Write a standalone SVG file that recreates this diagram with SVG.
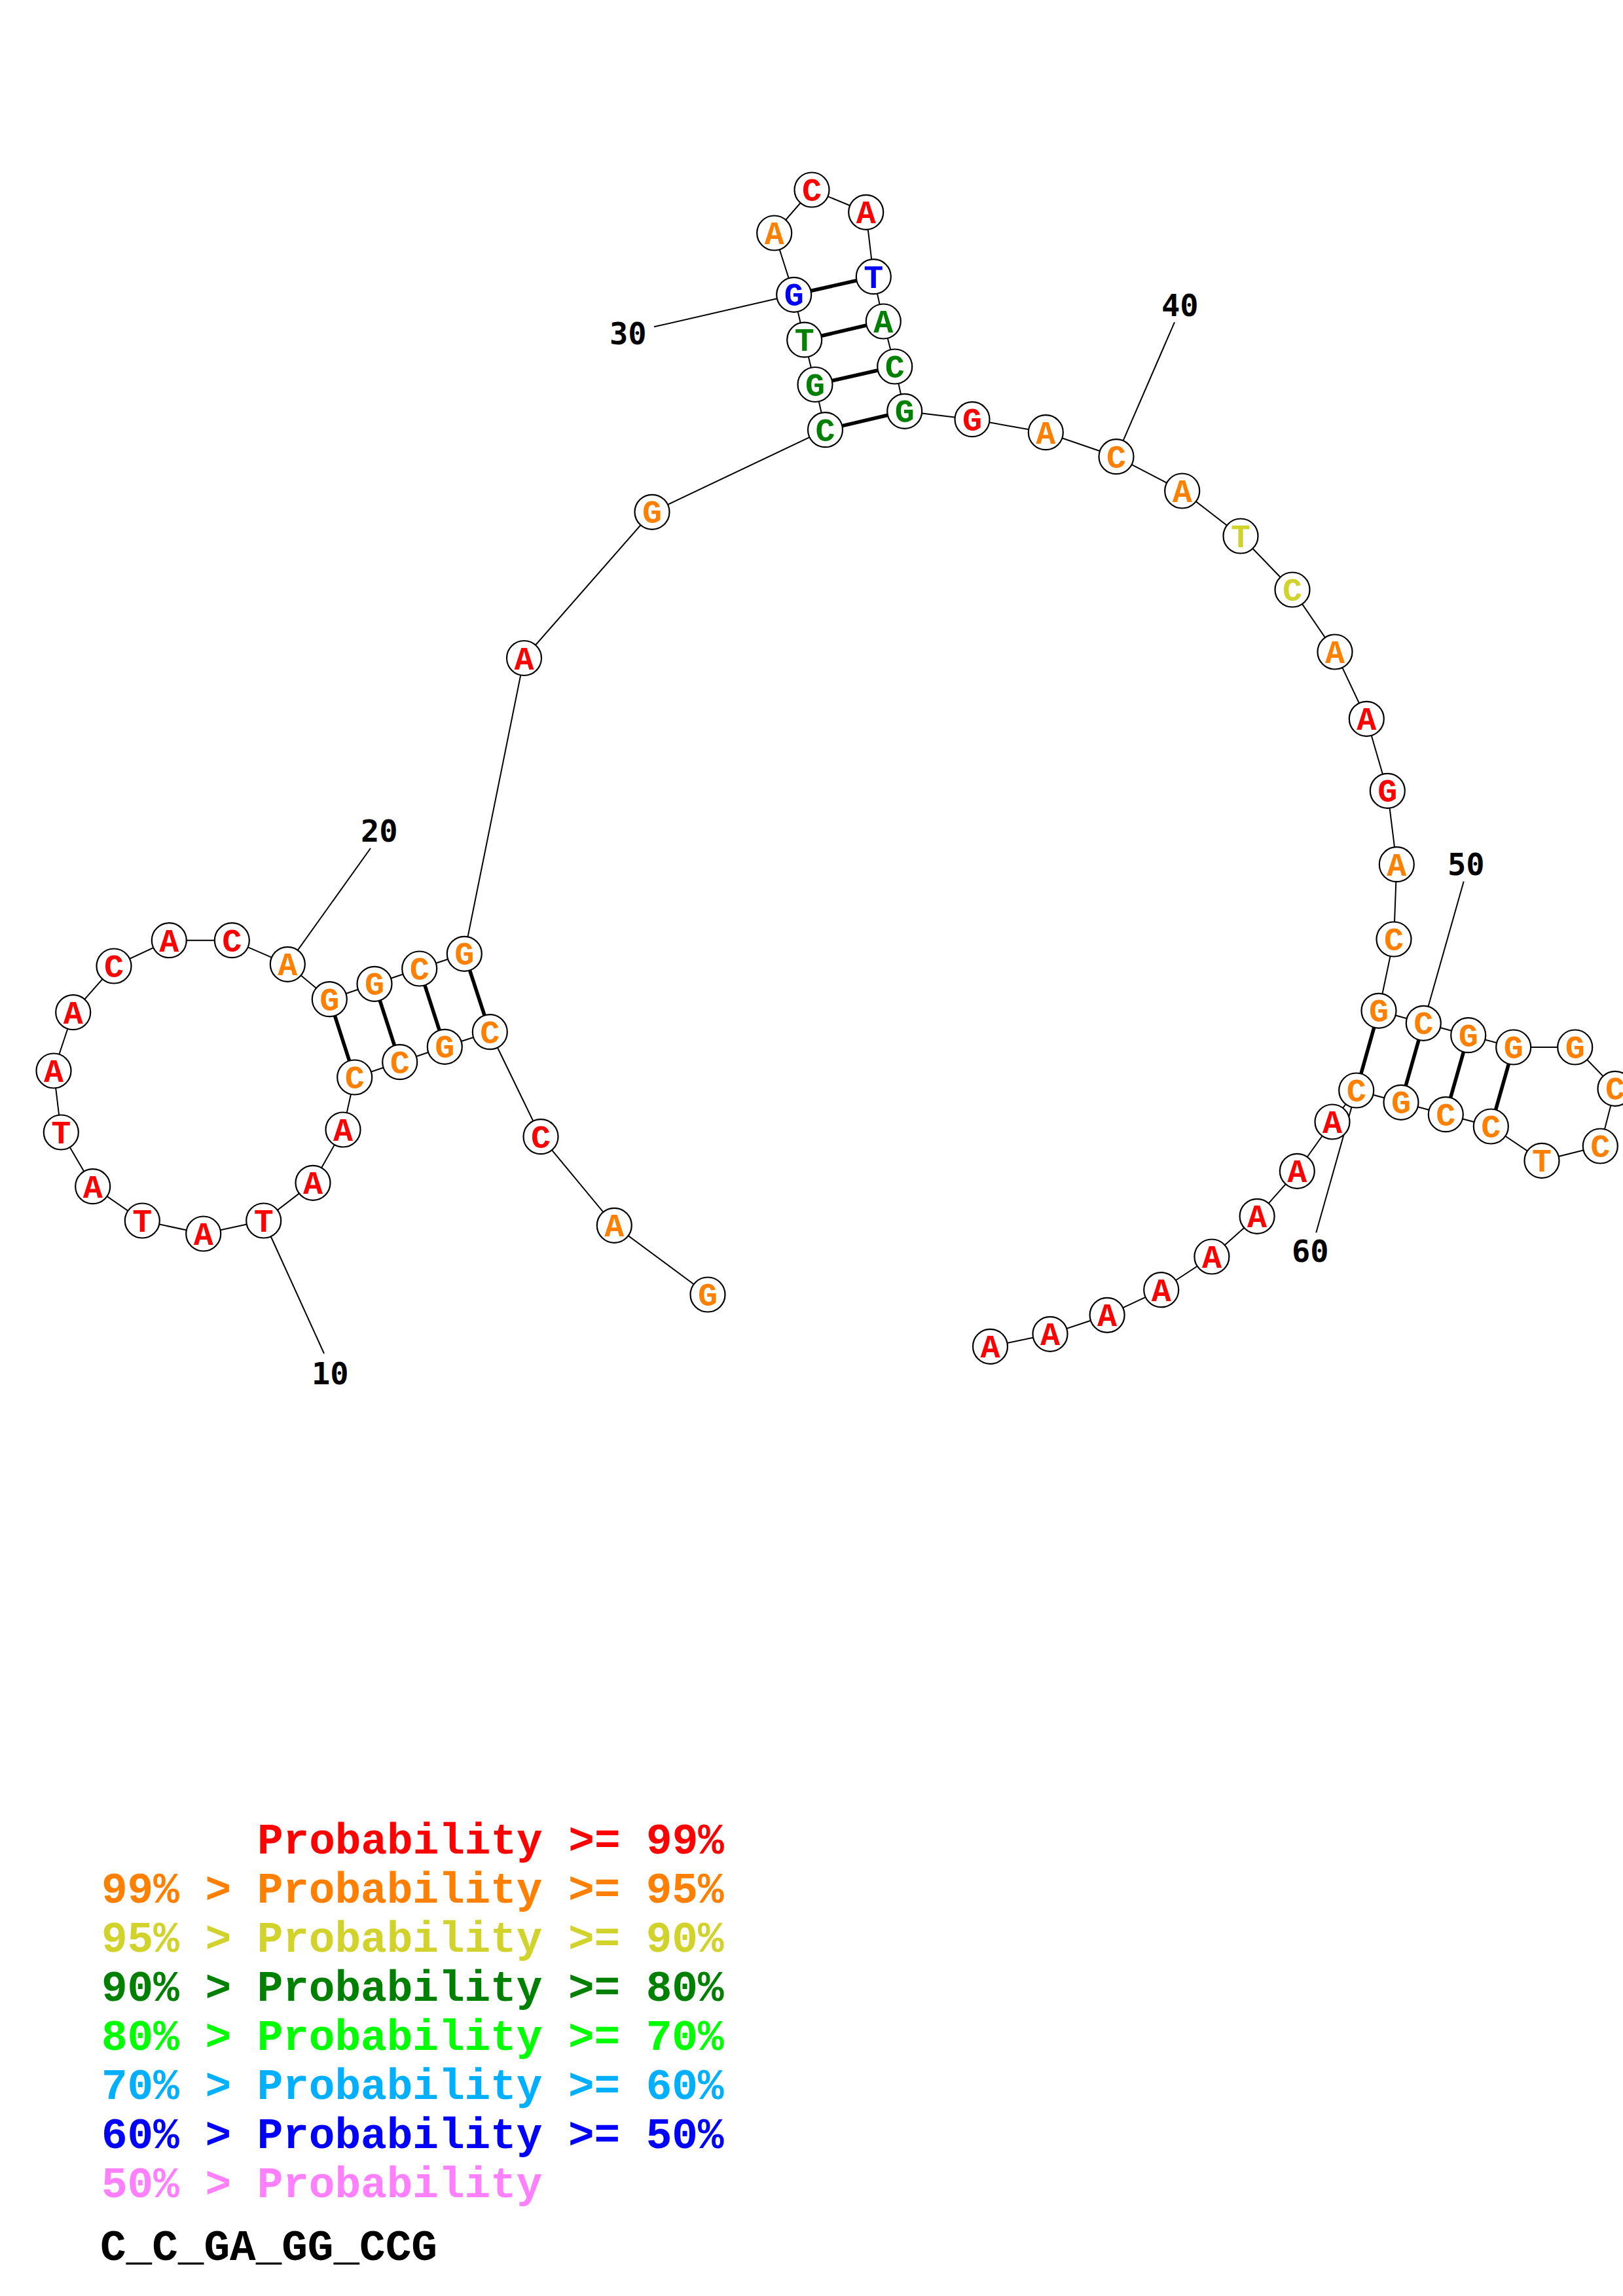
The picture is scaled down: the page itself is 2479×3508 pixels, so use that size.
<svg xmlns="http://www.w3.org/2000/svg" width="2479" height="3508" viewBox="0 0 2479 3508">
<style>
.bb{stroke:#000;stroke-width:2;fill:none}
.bp{stroke:#000;stroke-width:5.5;fill:none}
.nd circle{fill:#fff;stroke:#000;stroke-width:2.2}
.nd text{font-family:"Liberation Mono","DejaVu Sans Mono",monospace;font-weight:bold;font-size:50px;text-anchor:middle}
.lbl{font-family:"DejaVu Sans Mono","Liberation Mono",monospace;font-weight:bold;font-size:47px;fill:#000}
.lg{font-family:"Liberation Mono","Courier New",monospace;font-weight:bold;font-size:66px}
.r{fill:#ff0000}.o{fill:#ff8000}.y{fill:#d2d22d}.g{fill:#008000}.b{fill:#0000ff}
.l{fill:#00ff00}.c{fill:#00afff}.p{fill:#ff80ff}.k{fill:#000}
</style>
<g id="connectors">
<polyline class="bb" points="1081,1978 938.3,1872.3 826,1736.7 748.3,1576.7 679.3,1599.3 610.7,1622.7 541.7,1646 524,1726 478,1807.3 402.7,1865 310.7,1885 217.3,1865 141.7,1812.7 93.3,1730 82,1636 111.7,1546.7 174,1476 258.3,1436.7 354.3,1436.7 439.3,1473.3 503.3,1526.7 572,1503.3 640.7,1480 709.3,1457.3 800.5,1005.5 996,782.3 1260.5,656.7 1245,587.5 1228.7,519.2 1212.7,450.3 1182.7,356 1240,290 1322.7,324.3 1334.3,422.7 1349.3,491 1366.7,560 1381.7,628.3 1485,640.7 1597.3,660.7 1705,697.7 1805.7,750 1895,819 1974,901 2039,996 2087.3,1098.3 2119.3,1208.3 2133.3,1320.7 2129,1435 2106,1544.3 2174.3,1563.3 2242.7,1581.7 2311.7,1600 2405.7,1600 2467,1663.3 2444.3,1751 2355,1773.3 2277.3,1721 2208.3,1702.7 2140,1684.3 2071.7,1666 2035,1714 1981.3,1789.3 1920.1,1858.3 1850.9,1920 1773.7,1970.7 1691.1,2009.3 1604,2038.3 1512.5,2057.3"/>
<line class="bp" x1="748.3" y1="1576.7" x2="709.3" y2="1457.3"/>
<line class="bp" x1="679.3" y1="1599.3" x2="640.7" y2="1480"/>
<line class="bp" x1="610.7" y1="1622.7" x2="572" y2="1503.3"/>
<line class="bp" x1="541.7" y1="1646" x2="503.3" y2="1526.7"/>
<line class="bp" x1="1260.5" y1="656.7" x2="1381.7" y2="628.3"/>
<line class="bp" x1="1245" y1="587.5" x2="1366.7" y2="560"/>
<line class="bp" x1="1228.7" y1="519.2" x2="1349.3" y2="491"/>
<line class="bp" x1="1212.7" y1="450.3" x2="1334.3" y2="422.7"/>
<line class="bp" x1="2106" y1="1544.3" x2="2071.7" y2="1666"/>
<line class="bp" x1="2174.3" y1="1563.3" x2="2140" y2="1684.3"/>
<line class="bp" x1="2242.7" y1="1581.7" x2="2208.3" y2="1702.7"/>
<line class="bp" x1="2311.7" y1="1600" x2="2277.3" y2="1721"/>
<line class="bb" x1="402.7" y1="1865" x2="495" y2="2068"/>
<line class="bb" x1="439.3" y1="1473.3" x2="566" y2="1296"/>
<line class="bb" x1="1212.7" y1="450.3" x2="999" y2="499.3"/>
<line class="bb" x1="1705" y1="697.7" x2="1794" y2="492.3"/>
<line class="bb" x1="2174.3" y1="1563.3" x2="2235.7" y2="1346.7"/>
<line class="bb" x1="2071.7" y1="1666" x2="2010.3" y2="1883.3"/>
</g>
<g id="labels">
<text class="lbl" x="476" y="2115">10</text>
<text class="lbl" x="551" y="1286">20</text>
<text class="lbl" x="931" y="526">30</text>
<text class="lbl" x="1774" y="483">40</text>
<text class="lbl" x="2211" y="1337">50</text>
<text class="lbl" x="1973" y="1928">60</text>
</g>
<g id="n1" class="nd"><circle cx="1081" cy="1978" r="26.5"/><text class="o" x="1081" y="1995">G</text></g>
<g id="n2" class="nd"><circle cx="938.3" cy="1872.3" r="26.5"/><text class="o" x="938.3" y="1889.3">A</text></g>
<g id="n3" class="nd"><circle cx="826" cy="1736.7" r="26.5"/><text class="r" x="826" y="1753.7">C</text></g>
<g id="n4" class="nd"><circle cx="748.3" cy="1576.7" r="26.5"/><text class="o" x="748.3" y="1593.7">C</text></g>
<g id="n5" class="nd"><circle cx="679.3" cy="1599.3" r="26.5"/><text class="o" x="679.3" y="1616.3">G</text></g>
<g id="n6" class="nd"><circle cx="610.7" cy="1622.7" r="26.5"/><text class="o" x="610.7" y="1639.7">C</text></g>
<g id="n7" class="nd"><circle cx="541.7" cy="1646" r="26.5"/><text class="o" x="541.7" y="1663">C</text></g>
<g id="n8" class="nd"><circle cx="524" cy="1726" r="26.5"/><text class="r" x="524" y="1743">A</text></g>
<g id="n9" class="nd"><circle cx="478" cy="1807.3" r="26.5"/><text class="r" x="478" y="1824.3">A</text></g>
<g id="n10" class="nd"><circle cx="402.7" cy="1865" r="26.5"/><text class="r" x="402.7" y="1882">T</text></g>
<g id="n11" class="nd"><circle cx="310.7" cy="1885" r="26.5"/><text class="r" x="310.7" y="1902">A</text></g>
<g id="n12" class="nd"><circle cx="217.3" cy="1865" r="26.5"/><text class="r" x="217.3" y="1882">T</text></g>
<g id="n13" class="nd"><circle cx="141.7" cy="1812.7" r="26.5"/><text class="r" x="141.7" y="1829.7">A</text></g>
<g id="n14" class="nd"><circle cx="93.3" cy="1730" r="26.5"/><text class="r" x="93.3" y="1747">T</text></g>
<g id="n15" class="nd"><circle cx="82" cy="1636" r="26.5"/><text class="r" x="82" y="1653">A</text></g>
<g id="n16" class="nd"><circle cx="111.7" cy="1546.7" r="26.5"/><text class="r" x="111.7" y="1563.7">A</text></g>
<g id="n17" class="nd"><circle cx="174" cy="1476" r="26.5"/><text class="r" x="174" y="1493">C</text></g>
<g id="n18" class="nd"><circle cx="258.3" cy="1436.7" r="26.5"/><text class="r" x="258.3" y="1453.7">A</text></g>
<g id="n19" class="nd"><circle cx="354.3" cy="1436.7" r="26.5"/><text class="r" x="354.3" y="1453.7">C</text></g>
<g id="n20" class="nd"><circle cx="439.3" cy="1473.3" r="26.5"/><text class="o" x="439.3" y="1490.3">A</text></g>
<g id="n21" class="nd"><circle cx="503.3" cy="1526.7" r="26.5"/><text class="o" x="503.3" y="1543.7">G</text></g>
<g id="n22" class="nd"><circle cx="572" cy="1503.3" r="26.5"/><text class="o" x="572" y="1520.3">G</text></g>
<g id="n23" class="nd"><circle cx="640.7" cy="1480" r="26.5"/><text class="o" x="640.7" y="1497">C</text></g>
<g id="n24" class="nd"><circle cx="709.3" cy="1457.3" r="26.5"/><text class="o" x="709.3" y="1474.3">G</text></g>
<g id="n25" class="nd"><circle cx="800.5" cy="1005.5" r="26.5"/><text class="r" x="800.5" y="1022.5">A</text></g>
<g id="n26" class="nd"><circle cx="996" cy="782.3" r="26.5"/><text class="o" x="996" y="799.3">G</text></g>
<g id="n27" class="nd"><circle cx="1260.5" cy="656.7" r="26.5"/><text class="g" x="1260.5" y="673.7">C</text></g>
<g id="n28" class="nd"><circle cx="1245" cy="587.5" r="26.5"/><text class="g" x="1245" y="604.5">G</text></g>
<g id="n29" class="nd"><circle cx="1228.7" cy="519.2" r="26.5"/><text class="g" x="1228.7" y="536.2">T</text></g>
<g id="n30" class="nd"><circle cx="1212.7" cy="450.3" r="26.5"/><text class="b" x="1212.7" y="467.3">G</text></g>
<g id="n31" class="nd"><circle cx="1182.7" cy="356" r="26.5"/><text class="o" x="1182.7" y="373">A</text></g>
<g id="n32" class="nd"><circle cx="1240" cy="290" r="26.5"/><text class="r" x="1240" y="307">C</text></g>
<g id="n33" class="nd"><circle cx="1322.7" cy="324.3" r="26.5"/><text class="r" x="1322.7" y="341.3">A</text></g>
<g id="n34" class="nd"><circle cx="1334.3" cy="422.7" r="26.5"/><text class="b" x="1334.3" y="439.7">T</text></g>
<g id="n35" class="nd"><circle cx="1349.3" cy="491" r="26.5"/><text class="g" x="1349.3" y="508">A</text></g>
<g id="n36" class="nd"><circle cx="1366.7" cy="560" r="26.5"/><text class="g" x="1366.7" y="577">C</text></g>
<g id="n37" class="nd"><circle cx="1381.7" cy="628.3" r="26.5"/><text class="g" x="1381.7" y="645.3">G</text></g>
<g id="n38" class="nd"><circle cx="1485" cy="640.7" r="26.5"/><text class="r" x="1485" y="657.7">G</text></g>
<g id="n39" class="nd"><circle cx="1597.3" cy="660.7" r="26.5"/><text class="o" x="1597.3" y="677.7">A</text></g>
<g id="n40" class="nd"><circle cx="1705" cy="697.7" r="26.5"/><text class="o" x="1705" y="714.7">C</text></g>
<g id="n41" class="nd"><circle cx="1805.7" cy="750" r="26.5"/><text class="o" x="1805.7" y="767">A</text></g>
<g id="n42" class="nd"><circle cx="1895" cy="819" r="26.5"/><text class="y" x="1895" y="836">T</text></g>
<g id="n43" class="nd"><circle cx="1974" cy="901" r="26.5"/><text class="y" x="1974" y="918">C</text></g>
<g id="n44" class="nd"><circle cx="2039" cy="996" r="26.5"/><text class="o" x="2039" y="1013">A</text></g>
<g id="n45" class="nd"><circle cx="2087.3" cy="1098.3" r="26.5"/><text class="r" x="2087.3" y="1115.3">A</text></g>
<g id="n46" class="nd"><circle cx="2119.3" cy="1208.3" r="26.5"/><text class="r" x="2119.3" y="1225.3">G</text></g>
<g id="n47" class="nd"><circle cx="2133.3" cy="1320.7" r="26.5"/><text class="o" x="2133.3" y="1337.7">A</text></g>
<g id="n48" class="nd"><circle cx="2129" cy="1435" r="26.5"/><text class="o" x="2129" y="1452">C</text></g>
<g id="n49" class="nd"><circle cx="2106" cy="1544.3" r="26.5"/><text class="o" x="2106" y="1561.3">G</text></g>
<g id="n50" class="nd"><circle cx="2174.3" cy="1563.3" r="26.5"/><text class="o" x="2174.3" y="1580.3">C</text></g>
<g id="n51" class="nd"><circle cx="2242.7" cy="1581.7" r="26.5"/><text class="o" x="2242.7" y="1598.7">G</text></g>
<g id="n52" class="nd"><circle cx="2311.7" cy="1600" r="26.5"/><text class="o" x="2311.7" y="1617">G</text></g>
<g id="n53" class="nd"><circle cx="2405.7" cy="1600" r="26.5"/><text class="o" x="2405.7" y="1617">G</text></g>
<g id="n54" class="nd"><circle cx="2467" cy="1663.3" r="26.5"/><text class="o" x="2467" y="1680.3">C</text></g>
<g id="n55" class="nd"><circle cx="2444.3" cy="1751" r="26.5"/><text class="o" x="2444.3" y="1768">C</text></g>
<g id="n56" class="nd"><circle cx="2355" cy="1773.3" r="26.5"/><text class="o" x="2355" y="1790.3">T</text></g>
<g id="n57" class="nd"><circle cx="2277.3" cy="1721" r="26.5"/><text class="o" x="2277.3" y="1738">C</text></g>
<g id="n58" class="nd"><circle cx="2208.3" cy="1702.7" r="26.5"/><text class="o" x="2208.3" y="1719.7">C</text></g>
<g id="n59" class="nd"><circle cx="2140" cy="1684.3" r="26.5"/><text class="o" x="2140" y="1701.3">G</text></g>
<g id="n60" class="nd"><circle cx="2071.7" cy="1666" r="26.5"/><text class="o" x="2071.7" y="1683">C</text></g>
<g id="n61" class="nd"><circle cx="2035" cy="1714" r="26.5"/><text class="r" x="2035" y="1731">A</text></g>
<g id="n62" class="nd"><circle cx="1981.3" cy="1789.3" r="26.5"/><text class="r" x="1981.3" y="1806.3">A</text></g>
<g id="n63" class="nd"><circle cx="1920.1" cy="1858.3" r="26.5"/><text class="r" x="1920.1" y="1875.3">A</text></g>
<g id="n64" class="nd"><circle cx="1850.9" cy="1920" r="26.5"/><text class="r" x="1850.9" y="1937">A</text></g>
<g id="n65" class="nd"><circle cx="1773.7" cy="1970.7" r="26.5"/><text class="r" x="1773.7" y="1987.7">A</text></g>
<g id="n66" class="nd"><circle cx="1691.1" cy="2009.3" r="26.5"/><text class="r" x="1691.1" y="2026.3">A</text></g>
<g id="n67" class="nd"><circle cx="1604" cy="2038.3" r="26.5"/><text class="r" x="1604" y="2055.3">A</text></g>
<g id="n68" class="nd"><circle cx="1512.5" cy="2057.3" r="26.5"/><text class="r" x="1512.5" y="2074.3">A</text></g>
<g id="legend" class="lg">
<text class="r" x="393" y="2832">Probability &gt;= 99%</text>
<text class="o" x="155" y="2907">99% &gt; Probability &gt;= 95%</text>
<text class="y" x="155" y="2982">95% &gt; Probability &gt;= 90%</text>
<text class="g" x="155" y="3057">90% &gt; Probability &gt;= 80%</text>
<text class="l" x="155" y="3132">80% &gt; Probability &gt;= 70%</text>
<text class="c" x="155" y="3207">70% &gt; Probability &gt;= 60%</text>
<text class="b" x="155" y="3282">60% &gt; Probability &gt;= 50%</text>
<text class="p" x="155" y="3357">50% &gt; Probability</text>
<text class="k" x="153" y="3453">C_C_GA_GG_CCG</text>
</g>
</svg>
